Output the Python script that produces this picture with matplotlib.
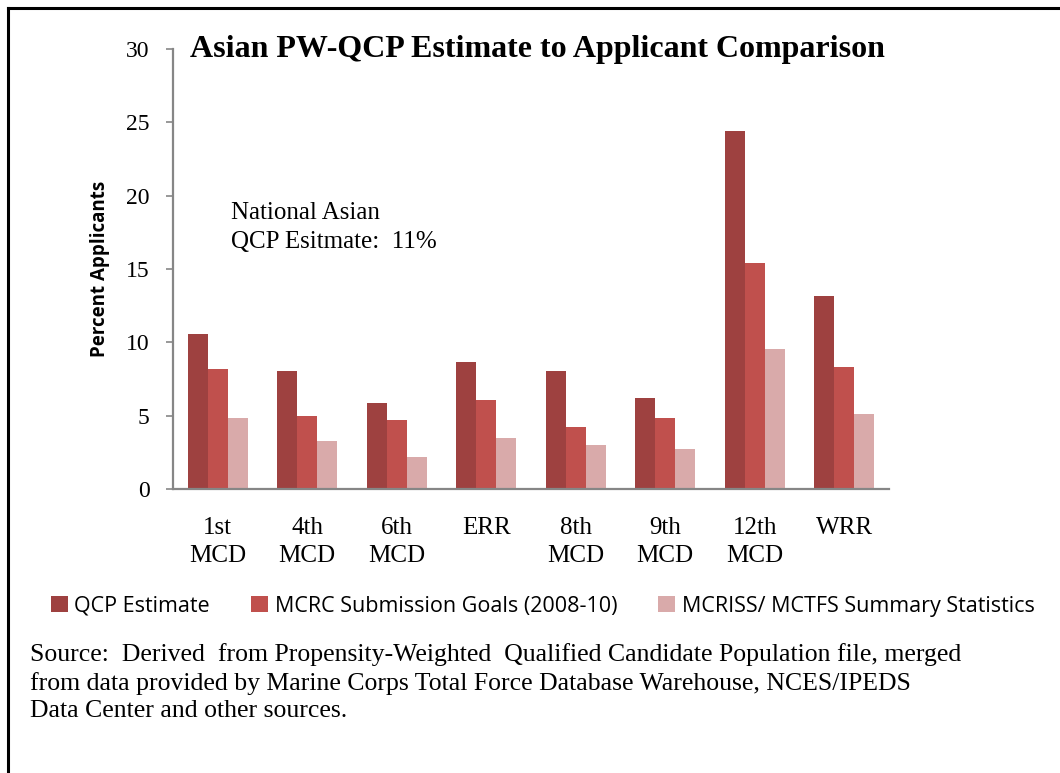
import numpy as np
import matplotlib
matplotlib.use("Agg")
import matplotlib.pyplot as plt
from matplotlib.lines import Line2D

categories = ["1st\nMCD", "4th\nMCD", "6th\nMCD", "ERR", "8th\nMCD", "9th\nMCD", "12th\nMCD", "WRR"]
qcp_estimate = [10.55, 8.05, 5.85, 8.65, 8.05, 6.2, 24.4, 13.15]
mcrc_goals = [8.15, 5.0, 4.7, 6.05, 4.2, 4.85, 15.4, 8.3]
mcriss_stats = [4.85, 3.25, 2.15, 3.45, 3.0, 2.75, 9.55, 5.1]
series_names = ["QCP Estimate", "MCRC Submission Goals (2008-10)", "MCRISS/ MCTFS Summary Statistics"]
colors = ["#9E4140", "#C0504D", "#D9AAAA"]

serif = "Liberation Serif"
sans = "Open Sans"

fig = plt.figure(figsize=(10.6, 7.73), dpi=100)
ax = fig.add_axes([0.1632, 0.3674, 0.6755, 0.5692])

x = np.arange(len(categories))
w = 0.222
for i, vals in enumerate([qcp_estimate, mcrc_goals, mcriss_stats]):
    ax.bar(x + (i - 1) * w, vals, width=w, color=colors[i], label=series_names[i])

ax.set_xlim(-0.5, len(categories) - 0.5)
ax.set_ylim(0, 30)
ax.set_yticks([0, 5, 10, 15, 20, 25, 30])
ax.set_xticks(x)
ax.set_xticklabels(categories, fontfamily=serif, fontsize=18, linespacing=1.35)
for lab in ax.get_yticklabels():
    lab.set_fontfamily(serif)
    lab.set_fontsize(17)

for s in ["top", "right"]:
    ax.spines[s].set_visible(False)
for s in ["left", "bottom"]:
    ax.spines[s].set_color("#868686")
    ax.spines[s].set_linewidth(1.6)
ax.tick_params(axis="y", length=5, width=1.2, color="#868686", pad=12)
ax.tick_params(axis="x", length=0, pad=20)

ax.set_ylabel("Percent Applicants", fontfamily=sans, fontweight="bold", fontsize=13.5, labelpad=11)

fig.text(0.5066, 0.926, "Asian PW-QCP Estimate to Applicant Comparison", fontfamily=serif,
         fontweight="bold", fontsize=23, ha="center", va="baseline")
ax.text(0.148, 19.6, "National Asian\nQCP Esitmate:  11%", fontfamily=serif, fontsize=18,
        va="top", ha="left", linespacing=1.45)

leg = fig.legend(loc="center", bbox_to_anchor=(0.512, 0.216), ncol=3, frameon=False,
                 prop={"family": sans, "size": 15.5}, handlelength=0.8, handleheight=0.7,
                 handletextpad=0.3, columnspacing=1.9)

fig.text(0.028, 0.168,
         "Source:  Derived  from Propensity-Weighted  Qualified Candidate Population file, merged\n"
         "from data provided by Marine Corps Total Force Database Warehouse, NCES/IPEDS\n"
         "Data Center and other sources.",
         fontfamily=serif, fontsize=18.5, va="top", ha="left", linespacing=1.3)

# border around the chart area
fig.add_artist(Line2D([0.0078, 0.0078], [0, 0.99], color="black", lw=2.2, transform=fig.transFigure))
fig.add_artist(Line2D([0.0078, 1.0], [0.99, 0.99], color="black", lw=2.2, transform=fig.transFigure))

fig.savefig("out.png", dpi=100)
